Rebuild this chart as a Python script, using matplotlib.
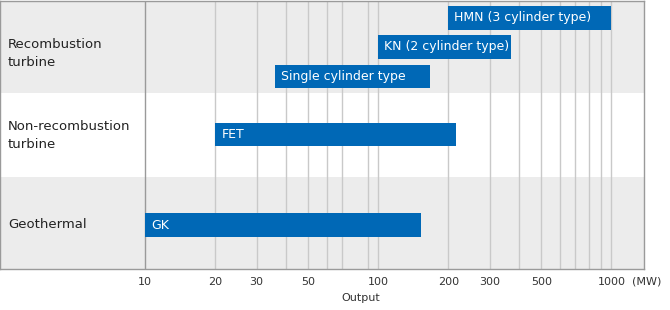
import matplotlib
matplotlib.use("Agg")
import matplotlib.pyplot as plt

# Data
groups = ["Recombustion\nturbine", "Non-recombustion\nturbine", "Geothermal"]
bar_labels = ["HMN (3 cylinder type)", "KN (2 cylinder type)", "Single cylinder type", "FET", "GK"]
bar_group = [0, 0, 0, 1, 2]
bar_start = [200, 100, 36, 20, 10]
bar_end = [1000, 370, 167, 215, 152]
tick_values = [10, 20, 30, 50, 100, 200, 300, 500, 1000]
grid_values = [20, 30, 40, 50, 60, 70, 90, 100, 200, 300, 400, 500, 600, 700, 800, 900, 1000]

# Layout (pixel-like units, top to bottom)
band_edges = [0, 93, 177, 269]
band_colors = ["#ececec", "#ffffff", "#ececec"]
label_offsets = [6.5, 0, 1]
bar_h = 23.5
slot_offsets = {0: [-29, 0, 29.5], 1: [-1], 2: [2]}
bar_color = "#0068b6"

W, H = 670, 310
fig = plt.figure(figsize=(W / 100, H / 100), dpi=100)
ax = fig.add_axes([0, (H - 269) / H, 644 / W, 268.5 / H])
ax.set_xscale("log")
ax.set_xlim(10 ** 0.3764, 10 ** 3.140)
ax.set_ylim(band_edges[-1], band_edges[0])

for i in range(len(groups)):
    ax.axhspan(band_edges[i], band_edges[i + 1], color=band_colors[i], lw=0, zorder=0)

for g in grid_values:
    ax.axvline(g, color="#c9c9c9", lw=1, zorder=1)
ax.axvline(10, color="#9a9a9a", lw=1, zorder=1)

# bars
counters = {}
for lab, grp, s, e in zip(bar_labels, bar_group, bar_start, bar_end):
    k = counters.get(grp, 0)
    counters[grp] = k + 1
    yc = (band_edges[grp] + band_edges[grp + 1]) / 2 + slot_offsets[grp][k]
    ax.barh(yc, e - s, left=s, height=bar_h, color=bar_color, zorder=2)
    ax.annotate(lab, (s, yc), xytext=(6, 0), textcoords="offset pixels",
                color="white", fontsize=9, va="center", ha="left", zorder=3)

# group labels
for i, g in enumerate(groups):
    yc = (band_edges[i] + band_edges[i + 1]) / 2 + label_offsets[i]
    ax.text(8 / 644, yc, g, transform=ax.get_yaxis_transform(), fontsize=9.5,
            color="#222222", va="center", ha="left", linespacing=1.5)

ax.set_xticks(tick_values)
ax.set_xticklabels([str(t) for t in tick_values])
ax.minorticks_off()
ax.tick_params(axis="x", length=0, pad=6, labelsize=8, labelcolor="#333333")
ax.set_yticks([])
for sp in ax.spines.values():
    sp.set_color("#9a9a9a")
    sp.set_linewidth(1)

ax.annotate("(MW)", (1000, 0), xycoords=("data", "axes fraction"), xytext=(21, -8),
            textcoords="offset pixels", fontsize=8, color="#333333", va="top", ha="left")
fig.text(361 / W, 1 - 298 / H, "Output", fontsize=8, color="#333333", ha="center", va="center")

fig.savefig("out.png", dpi=100)
